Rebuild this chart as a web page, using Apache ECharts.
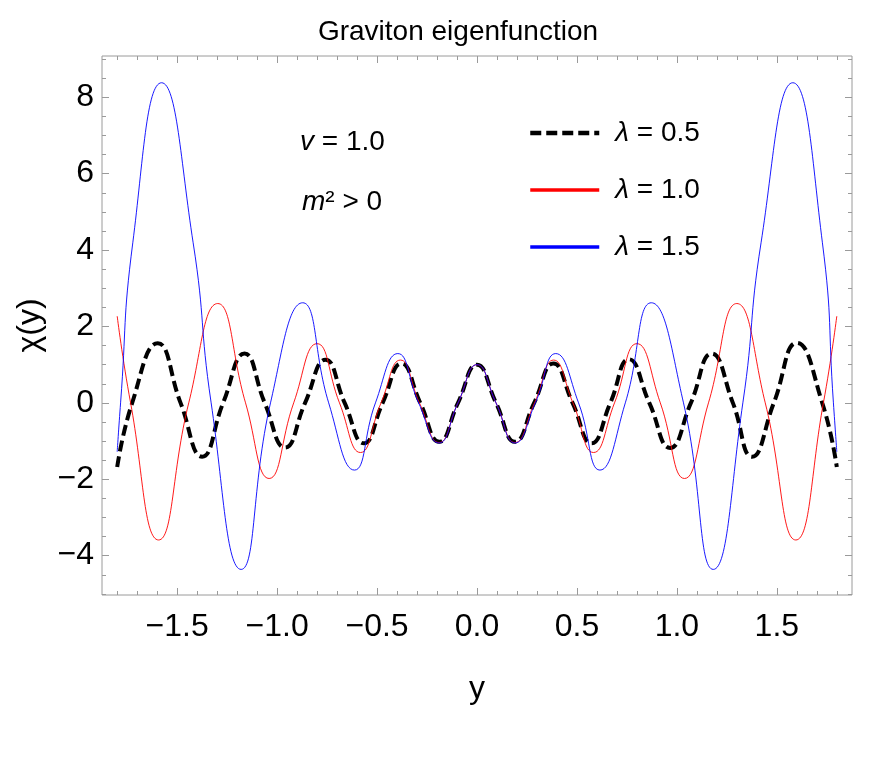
<!DOCTYPE html>
<html>
<head>
<meta charset="utf-8">
<script src="https://cdn.jsdelivr.net/npm/echarts@6/dist/echarts.min.js"></script>
<style>
html, body { margin: 0; padding: 0; background: #fff; }
#main { width: 872px; height: 763px; }
</style>
</head>
<body>
<div id="main"></div>
<script>
// points: [y, chi(y)]  (extrema, zero crossings, half height on the big lobes)
var lam05 = [[-1.8,-1.68],[-1.725,0],[-1.597,1.56],[-1.483,0],[-1.375,-1.41],[-1.27,0],[-1.163,1.29],[-1.062,0],
	[-0.96,-1.17],[-0.86,0],[-0.758,1.13],[-0.662,0],[-0.566,-1.06],[-0.472,0],[-0.378,1.03],[-0.284,0],
	[-0.189,-1.02],[-0.095,0],[0,1.0],[0.095,0],[0.19,-1.02],[0.286,0],[0.382,1.03],[0.478,0],[0.573,-1.06],
	[0.667,0],[0.76,1.14],[0.862,0],[0.966,-1.18],[1.07,0],[1.174,1.29],[1.28,0],[1.376,-1.41],[1.485,0],
	[1.6,1.57],[1.727,0],[1.8,-1.68]];
var lam10 = [[-1.8,2.27],[-1.733,0],[-1.593,-3.59],[-1.442,0],[-1.297,2.6],[-1.158,0],
	[-1.04,-1.98],[-0.917,0],[-0.8,1.55],[-0.688,0],[-0.583,-1.3],[-0.48,0],[-0.383,1.12],[-0.288,0],
	[-0.19,-1.04],[-0.095,0],[0,1.0],[0.095,0],[0.19,-1.04],[0.288,0],[0.383,1.12],[0.48,0],[0.583,-1.3],
	[0.688,0],[0.8,1.55],[0.917,0],[1.038,-1.98],[1.158,0],[1.3,2.6],[1.442,0],[1.595,-3.59],
	[1.733,0],[1.8,2.27]];
var lam15 = [[-1.8,-1.28],[-1.783,0],[-1.722,4.19],[-1.578,8.38],[-1.42,4.19],[-1.33,0],
	[-1.18,-4.36],[-1.033,0],[-0.872,2.62],[-0.742,0],[-0.613,-1.76],[-0.508,0],[-0.396,1.29],[-0.292,0],
	[-0.19,-1.05],[-0.095,0],[0,1.0],[0.095,0],[0.19,-1.05],[0.292,0],[0.394,1.29],[0.508,0],[0.615,-1.76],
	[0.742,0],[0.872,2.62],[1.033,0],[1.182,-4.36],[1.33,0],[1.421,4.19],[1.58,8.38],[1.728,4.19],
	[1.783,0],[1.8,-1.28]];

var xMajor = [-1.5, -1, -0.5, 0, 0.5, 1, 1.5];
var xMinor = [-1.8,-1.7,-1.6,-1.4,-1.3,-1.2,-1.1,-0.9,-0.8,-0.7,-0.6,-0.4,-0.3,-0.2,-0.1,
	0.1,0.2,0.3,0.4,0.6,0.7,0.8,0.9,1.1,1.2,1.3,1.4,1.6,1.7,1.8];
var yMajor = [-4, -2, 0, 2, 4, 6, 8];
var yMinor = [-5,-4.5,-3.5,-3,-2.5,-1.5,-1,-0.5,0.5,1,1.5,2.5,3,3.5,4.5,5,5.5,6.5,7,7.5,8.5,9];

var names = ['λ = 0.5', 'λ = 1.0', 'λ = 1.5'];

var font = 'Liberation Sans, Arial, sans-serif';
var frame = '#9a9a9a';

function minus(s) { return s.replace('-', '\u2212'); }

function xAx(pos, ticks, len, labels) {
	return {
		type: 'value', position: pos, min: -1.876, max: 1.876,
		axisLine: { show: false, onZero: false },
		splitLine: { show: false },
		axisTick: { show: true, inside: true, length: len, customValues: ticks, lineStyle: { color: frame } },
		axisLabel: labels ? {
			customValues: xMajor, margin: 16, color: '#000', fontSize: 32, fontFamily: font,
			formatter: function (v) { return minus(v.toFixed(1)); }
		} : { show: false }
	};
}
function yAx(pos, ticks, len, labels) {
	return {
		type: 'value', position: pos, min: -5.03, max: 9.08,
		axisLine: { show: false, onZero: false },
		splitLine: { show: false },
		axisTick: { show: true, inside: true, length: len, customValues: ticks, lineStyle: { color: frame } },
		axisLabel: labels ? {
			customValues: yMajor, margin: 8, color: '#000', fontSize: 32, fontFamily: font,
			formatter: function (v) { return minus(String(v)); }
		} : { show: false }
	};
}

var xAxes = [xAx('bottom', xMajor, 7, true), xAx('bottom', xMinor, 4), xAx('top', xMajor, 7), xAx('top', xMinor, 4)];
xAxes[0].name = 'y';
xAxes[0].nameLocation = 'middle';
xAxes[0].nameGap = 78;
xAxes[0].nameTextStyle = { fontSize: 32, fontFamily: font, color: '#000' };
var yAxes = [yAx('left', yMajor, 7, true), yAx('left', yMinor, 4), yAx('right', yMajor, 7), yAx('right', yMinor, 4)];
yAxes[0].name = 'χ(y)';
yAxes[0].nameLocation = 'middle';
yAxes[0].nameGap = 56;
yAxes[0].nameTextStyle = { fontSize: 32, fontFamily: font, color: '#000' };

var chart = echarts.init(document.getElementById('main'));
var option = {
	animation: false,
	backgroundColor: '#fff',
	title: {
		text: 'Graviton eigenfunction', left: 453, top: 13, textAlign: 'center',
		textStyle: { fontSize: 28, fontWeight: 'normal', fontFamily: font, color: '#000' }
	},
	grid: { left: 102, right: 20, top: 56, bottom: 168, show: true, borderColor: frame, borderWidth: 1, containLabel: false },
	xAxis: xAxes,
	yAxis: yAxes,
	legend: {
		orient: 'vertical', left: 528, top: 118, padding: 0,
		itemWidth: 69, itemHeight: 14, itemGap: 27,
		data: [
			{ name: names[0], lineStyle: { width: 4.5 }, itemStyle: { opacity: 0 } },
			{ name: names[1], lineStyle: { width: 3.5 }, itemStyle: { opacity: 0 } },
			{ name: names[2], lineStyle: { width: 3.5 }, itemStyle: { opacity: 0 } }
		],
		formatter: function (n) { return '{i|λ}' + n.slice(1); },
		textStyle: {
			fontSize: 28, fontFamily: font, color: '#000', lineHeight: 30, padding: [0, 0, 0, 11],
			rich: { i: { fontStyle: 'italic', fontSize: 28, fontFamily: font, color: '#000' } }
		}
	},
	graphic: [
		{ type: 'text', left: 300, top: 128, style: {
			text: '{i|v} = 1.0', font: '28px ' + font, fill: '#000',
			rich: { i: { fontStyle: 'italic', fontSize: 28, fontFamily: font } } } },
		{ type: 'text', left: 302, top: 188, style: {
			text: '{i|m}² > 0', font: '28px ' + font, fill: '#000',
			rich: { i: { fontStyle: 'italic', fontSize: 28, fontFamily: font } } } }
	],
	series: [
		{ name: names[0], type: 'line', data: lam05, smooth: 0.5, symbol: 'none',
			lineStyle: { color: '#000', width: 4, type: [11, 5] }, itemStyle: { color: '#000' } },
		{ name: names[1], type: 'line', data: lam10, smooth: 0.5, symbol: 'none',
			lineStyle: { color: '#ff0000', width: 0.9 }, itemStyle: { color: '#ff0000' } },
		{ name: names[2], type: 'line', data: lam15, smooth: 0.5, symbol: 'none',
			lineStyle: { color: '#0000ff', width: 0.9 }, itemStyle: { color: '#0000ff' } }
	]
};
chart.setOption(option);
</script>
</body>
</html>
